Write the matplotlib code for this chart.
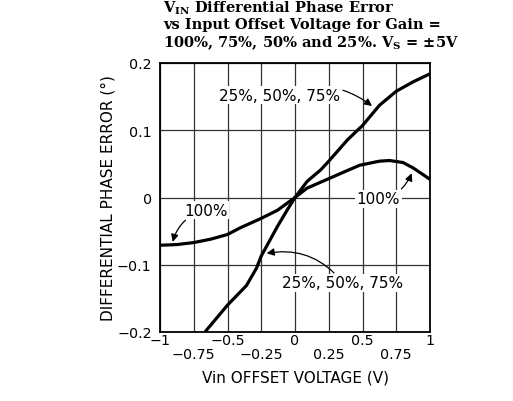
import matplotlib
matplotlib.use('Agg')
import matplotlib.pyplot as plt
import numpy as np

x_steep = [-0.667, -0.5, -0.36, -0.285, -0.25, -0.13, -0.056, 0.0, 0.09, 0.19, 0.25,
           0.39, 0.5, 0.625, 0.75, 0.875, 1.0]
y_steep = [-0.2, -0.160, -0.131, -0.105, -0.087, -0.043, -0.018, 0.0, 0.024, 0.041, 0.054,
           0.086, 0.107, 0.137, 0.158, 0.172, 0.184]

x_100 = [-1.0, -0.875, -0.75, -0.625, -0.5, -0.405, -0.25, -0.13, 0.0, 0.09, 0.25,
         0.375, 0.48, 0.625, 0.7, 0.8, 0.875, 1.0]
y_100 = [-0.071, -0.070, -0.067, -0.062, -0.055, -0.045, -0.031, -0.019, 0.0, 0.014, 0.028,
         0.039, 0.048, 0.054, 0.055, 0.052, 0.044, 0.027]

xticks_top = [-1, -0.5, 0, 0.5, 1]
xlabels_top = ['\u22121', '\u22120.5', '0', '0.5', '1']
xticks_low = [-0.75, -0.25, 0.25, 0.75]
xlabels_low = ['\u22120.75', '\u22120.25', '0.25', '0.75']
yticks = [-0.2, -0.1, 0, 0.1, 0.2]
yticklabels = ['\u22120.2', '\u22120.1', '0', '0.1', '0.2']

plt.rcParams['mathtext.fontset'] = 'dejavuserif'

fig = plt.figure(figsize=(5.13, 4.02), dpi=100)
ax = fig.add_axes([160/513, 1-333/402, 270/513, 269/402])

ax.set_xlim(-1, 1)
ax.set_ylim(-0.2, 0.2)
ax.set_xticks(xticks_top)
ax.set_xticklabels(xlabels_top, fontsize=10.3)
ax.set_xticks(xticks_low, minor=True)
ax.set_xticklabels(xlabels_low, minor=True, fontsize=10.3)
ax.set_yticks(yticks)
ax.set_yticklabels(yticklabels, fontsize=10.3)
ax.tick_params(axis='x', which='major', length=0, pad=1)
ax.tick_params(axis='x', which='minor', length=0, pad=11)
ax.tick_params(axis='y', length=0, pad=6)
ax.grid(True, which='both', color='#333333', lw=0.9)
for s in ax.spines.values():
    s.set_linewidth(1.3)

ax.plot(x_steep, y_steep, 'k', lw=2.3, solid_capstyle='butt', zorder=3)
ax.plot(x_100, y_100, 'k', lw=2.3, solid_capstyle='butt', zorder=3)

box = dict(boxstyle='square,pad=0.1', fc='white', ec='none')
arrow = dict(arrowstyle='-|>,head_length=0.4,head_width=0.2', color='k', lw=0.9,
             shrinkA=1, shrinkB=0)

ax.annotate('25%, 50%, 75%', xy=(0.57, 0.136), xytext=(0.333, 0.152),
            ha='right', va='center', fontsize=11, bbox=box, zorder=4,
            arrowprops=dict(arrow, connectionstyle='arc3,rad=-0.3'))
ax.annotate('25%, 50%, 75%', xy=(-0.21, -0.083), xytext=(-0.094, -0.127),
            ha='left', va='center', fontsize=11, bbox=box, zorder=4,
            arrowprops=dict(arrow, connectionstyle='arc3,rad=0.3'))
ax.annotate('100%', xy=(0.864, 0.036), xytext=(0.617, -0.002),
            ha='center', va='center', fontsize=11, bbox=box, zorder=4,
            arrowprops=dict(arrow, connectionstyle='arc3,rad=0.3'))
ax.annotate('100%', xy=(-0.906, -0.066), xytext=(-0.66, -0.019),
            ha='center', va='center', fontsize=11, bbox=box, zorder=4,
            arrowprops=dict(arrow, connectionstyle='arc3,rad=0.3'))

ax.set_xlabel('Vin OFFSET VOLTAGE (V)', fontsize=11, labelpad=6)
ax.set_ylabel('DIFFERENTIAL PHASE ERROR (\u00b0)', fontsize=11)
ax.yaxis.set_label_coords(-0.163, 0.5)

tkw = dict(fontsize=10.5, fontweight='bold', family='DejaVu Serif', ha='left', va='baseline')
fig.text(163/513, 1-12.5/402, r'$\mathbf{V_{IN}}$ Differential Phase Error', **tkw)
fig.text(163/513, 1-29.5/402, 'vs Input Offset Voltage for Gain =', **tkw)
fig.text(163/513, 1-47/402, r'100%, 75%, 50% and 25%. $\mathbf{V_S}$ = $\mathbf{\pm}$5V', **tkw)

plt.savefig('out.png', dpi=100)
